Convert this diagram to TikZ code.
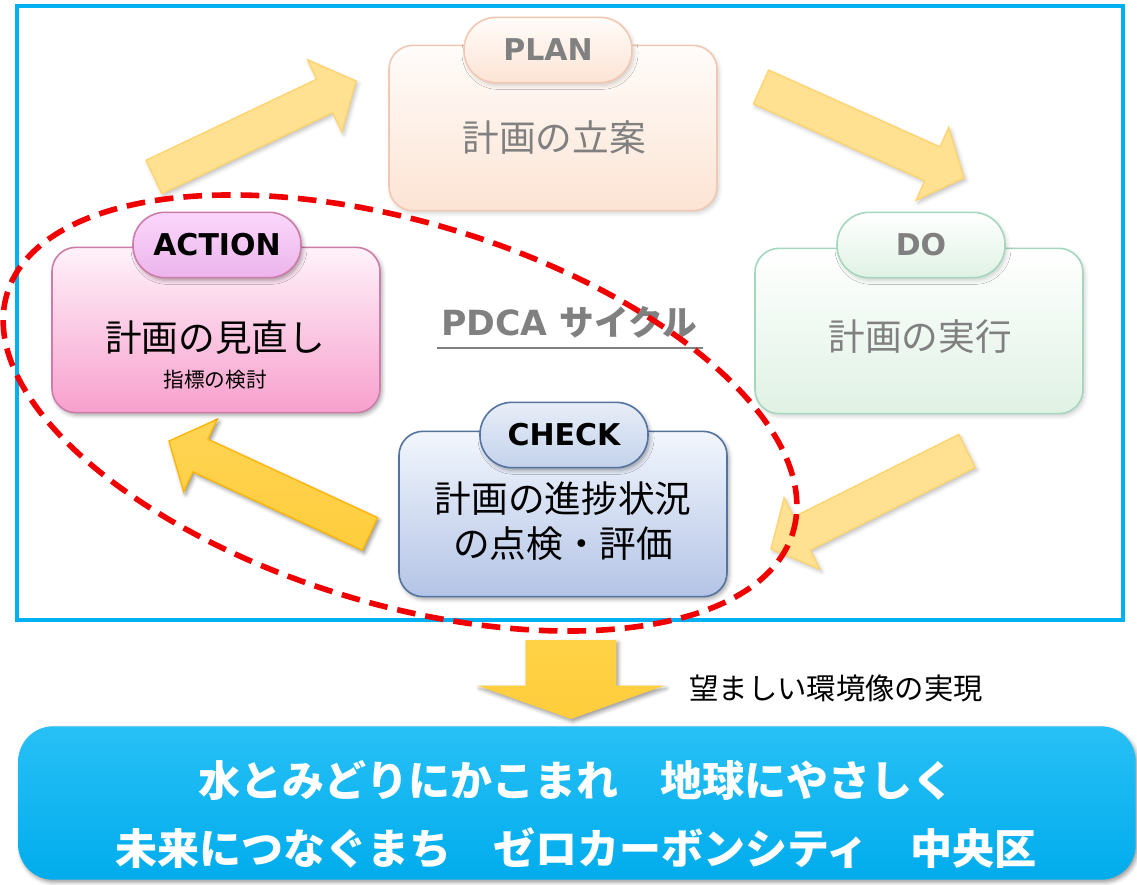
\documentclass[tikz,border=0pt]{standalone}
\usepackage{fontspec}
\newfontfamily\jp{Noto Sans CJK JP}
\newfontfamily\dv{DejaVu Sans}
\usetikzlibrary{calc,shadows.blur}
\definecolor{frameblue}{RGB}{0,176,240}
\definecolor{txtgray}{RGB}{128,128,128}
\definecolor{dashred}{RGB}{240,0,0}
% faded arrows
\definecolor{arrfill}{RGB}{255,225,145}
\definecolor{arrdraw}{RGB}{255,212,110}
% saturated arrow
\definecolor{arrST}{RGB}{255,212,85}
\definecolor{arrSM}{RGB}{255,190,0}
\definecolor{arrSD}{RGB}{255,205,60}
\definecolor{arrdrawS}{RGB}{255,182,0}
% PLAN
\definecolor{planB}{RGB}{242,200,178}
\definecolor{planT}{RGB}{255,252,250}
\definecolor{planD}{RGB}{252,228,212}
% DO
\definecolor{doB}{RGB}{165,215,190}
\definecolor{doT}{RGB}{255,255,255}
\definecolor{doD}{RGB}{224,242,228}
% ACTION
\definecolor{actB}{RGB}{205,125,170}
\definecolor{actT}{RGB}{255,242,250}
\definecolor{actD}{RGB}{247,160,205}
\definecolor{actTabT}{RGB}{250,215,250}
\definecolor{actTabD}{RGB}{236,180,236}
% CHECK
\definecolor{chkB}{RGB}{85,115,160}
\definecolor{chkT}{RGB}{242,246,253}
\definecolor{chkD}{RGB}{180,196,230}
\definecolor{chkTabT}{RGB}{232,238,248}
\definecolor{chkTabD}{RGB}{195,210,235}
\definecolor{goalT}{RGB}{40,192,246}
\definecolor{goalD}{RGB}{0,172,236}
\definecolor{downT}{RGB}{255,210,70}
\definecolor{downM}{RGB}{255,188,0}
\definecolor{downD}{RGB}{255,205,60}

\newcommand\blockarrow[6]{% #1 options, #2 tail, #3 tip, #4 shaft half width, #5 head half width, #6 head length
  \coordinate (#3h) at ($(#3)!#6!(#2)$);
  \path[#1] ($(#2)!#4!90:(#3)$) -- ($(#3h)!#4!-90:(#2)$) -- ($(#3h)!#5!-90:(#2)$)
    -- (#3) -- ($(#3h)!#5!90:(#2)$) -- ($(#3h)!#4!90:(#2)$) -- ($(#2)!#4!-90:(#3)$) -- cycle;
}

\tikzset{
  mainbox/.style={draw, line width=1.2pt, rounded corners=18pt, minimum width=246pt, minimum height=124pt, inner sep=0pt},
  tabbox/.style={draw, line width=1.2pt, rounded corners=24pt, minimum width=126pt, minimum height=49pt, inner sep=0pt},
  softshadow/.style={blur shadow={shadow xshift=1.5pt, shadow yshift=-2pt, shadow blur radius=3pt, shadow opacity=#1}},
  softshadow/.default=35,
  labelfont/.style={font=\dv\bfseries\fontsize{22.5}{26}\selectfont, inner sep=0pt},
  jptext/.style={font=\jp\fontsize{27.5}{34}\selectfont, inner sep=0pt, align=center},
  fadedarrow/.style={fill=arrfill, draw=arrdraw, line width=1pt, softshadow=25},
  strongarrow/.style={top color=arrST, middle color=arrSM, bottom color=arrSD, draw=arrdrawS, line width=1pt, softshadow=45},
}

\begin{document}
\begin{tikzpicture}[x=0.75pt, y=-0.75pt]
\useasboundingbox (0,0) rectangle (1137,884);

% outer frame
\draw[frameblue, line width=2.6pt] (17,6) rectangle (1123,620);

% arrows of the cycle
\coordinate (aTLt) at (154,177); \coordinate (aTLp) at (356,81);
\coordinate (aTRt) at (761,87);  \coordinate (aTRp) at (964,178);
\coordinate (aBRt) at (967,451); \coordinate (aBRp) at (771,549);
\coordinate (aBLt) at (370,534); \coordinate (aBLp) at (169,441);
\blockarrow{fadedarrow}{aTLt}{aTLp}{13.9pt}{30pt}{26pt}
\blockarrow{fadedarrow}{aTRt}{aTRp}{13.9pt}{30pt}{26pt}
\blockarrow{fadedarrow}{aBRt}{aBRp}{13.9pt}{30pt}{26pt}
\blockarrow{strongarrow}{aBLt}{aBLp}{13.5pt}{30pt}{26pt}

% PLAN
\node[mainbox, draw=planB, top color=planT, bottom color=planD, softshadow=18] (plan) at (553,128) {};
\node[tabbox, draw=planB, top color=planT, bottom color=planD, softshadow=18] (plantab) at (548,50) {};
\node[labelfont, text=txtgray] (planlbl) at (plantab) {PLAN};
\node[jptext, text=txtgray] (plantxt) at (554,138) {計画の立案};

% DO
\node[mainbox, draw=doB, top color=doT, bottom color=doD, softshadow=18] (do) at (919,331) {};
\node[tabbox, draw=doB, top color=doT, bottom color=doD, softshadow=18] (dotab) at (921,245) {};
\node[labelfont, text=txtgray] (dolbl) at (dotab) {DO};
\node[jptext, text=txtgray] (dotxt) at (920,337) {計画の実行};

% ACTION
\node[mainbox, draw=actB, top color=actT, bottom color=actD, softshadow] (action) at (216,330) {};
\node[tabbox, draw=actB, top color=actTabT, bottom color=actTabD, softshadow] (acttab) at (217,245) {};
\node[labelfont, text=black] (actlbl) at (acttab) {ACTION};
\node[jptext, text=black] (acttxt) at (215,338) {計画の見直し};
\node[font=\jp\fontsize{15.5}{18}\selectfont, inner sep=0pt] (actsub) at (215,380) {指標の検討};

% CHECK
\node[mainbox, draw=chkB, top color=chkT, bottom color=chkD, softshadow] (check) at (563,514) {};
\node[tabbox, draw=chkB, top color=chkTabT, bottom color=chkTabD, softshadow] (chktab) at (564,435) {};
\node[labelfont, text=black] (chklbl) at (chktab) {CHECK};
\node[jptext, text=black] (chktxt) at (563,521) {計画の進捗状況\\の点検・評価};

% PDCA title
\node[inner sep=0pt, text=txtgray] (pdca) at (569,322)
  {{\dv\bfseries\fontsize{26}{30}\selectfont PDCA }{\jp\bfseries\fontsize{26}{30}\selectfont サイクル}};
\draw[txtgray, line width=1.5pt] (437,348) -- (703,348);

% dashed red ellipse
\draw[dashred, line width=4.2pt, dash pattern=on 14pt off 7.5pt, rotate around={-16.9:(400,413)}]
  (400,413) ellipse [x radius=308pt, y radius=143pt];

% down arrow to goal
\coordinate (dnT) at (571,640); \coordinate (dnP) at (571,719);
\blockarrow{top color=downT, middle color=downM, bottom color=downD, draw=none, softshadow=40}{dnT}{dnP}{34pt}{70pt}{25pt}
\node[font=\jp\fontsize{22}{26}\selectfont, inner sep=0pt] (dnlbl) at (836,688) {望ましい環境像の実現};

% goal box
\node[rounded corners=26pt, top color=goalT, bottom color=goalD, draw=none, minimum width=838pt, minimum height=115pt, inner sep=0pt, softshadow=40] (goal) at (577,803) {};
\node[font=\jp\bfseries\fontsize{31.5}{51}\selectfont, text=white, align=center, inner sep=0pt] (goaltxt) at (576,814)
  {水とみどりにかこまれ　地球にやさしく\\未来につなぐまち　ゼロカーボンシティ　中央区};
\end{tikzpicture}
\end{document}
